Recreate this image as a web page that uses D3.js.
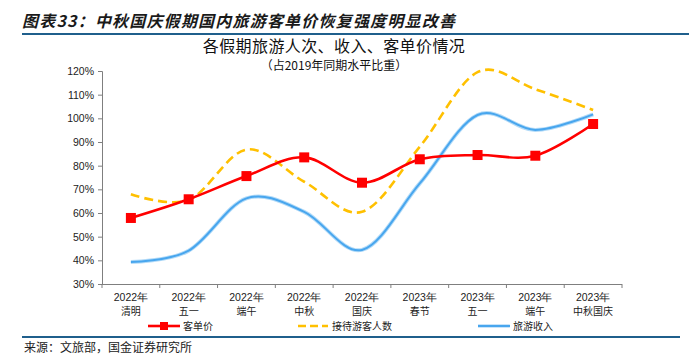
<!DOCTYPE html>
<html><head><meta charset="utf-8">
<script src="https://cdn.jsdelivr.net/npm/d3@7"></script>
<style>
body{margin:0;background:#fff;}
svg{display:block;}
</style></head>
<body>
<svg id="c" width="689" height="357"></svg>
<script>
const years = ["2022年","2022年","2022年","2022年","2022年","2023年","2023年","2023年","2023年"];
const holidays = ["清明","五一","端午","中秋","国庆","春节","五一","端午","中秋国庆"];
const priceSeries = [57.9, 65.8, 75.6, 83.5, 72.8, 82.7, 84.5, 84.2, 97.6];
const visitorSeries = [67.9, 65.5, 86.8, 73.2, 60.5, 88.0, 119.5, 112.3, 103.5];
const revenueSeries = [39.3, 44.1, 66.2, 60.5, 44.4, 72.5, 101.4, 95.1, 101.7];
const yTicks = [30,40,50,60,70,80,90,100,110,120];
const seriesNames = ["客单价","接待游客人数","旅游收入"];

(function(){
const font = "'Noto Sans CJK SC','Noto Sans',sans-serif";
const svg = d3.select("#c");

// header
svg.append("text").attr("x",22).attr("y",27)
  .attr("font-family",font).attr("font-size",16).attr("font-weight","bold")
  .attr("font-style","italic").attr("fill","#1a1a1a").attr("letter-spacing",1.2)
  .text("图表33：中秋国庆假期国内旅游客单价恢复强度明显改善");
svg.append("line").attr("x1",22).attr("x2",689).attr("y1",34).attr("y2",34)
  .attr("stroke","#1f5f8c").attr("stroke-width",2);
svg.append("line").attr("x1",22).attr("x2",680).attr("y1",337).attr("y2",337)
  .attr("stroke","#1f5f8c").attr("stroke-width",2);
svg.append("text").attr("x",24).attr("y",352)
  .attr("font-family",font).attr("font-size",12).attr("fill","#222")
  .text("来源：文旅部，国金证券研究所");

svg.append("text").attr("x",334).attr("y",52).attr("text-anchor","middle")
  .attr("font-family",font).attr("font-size",16).attr("fill","#111").attr("letter-spacing",0.4)
  .text("各假期旅游人次、收入、客单价情况");
svg.append("text").attr("x",334).attr("y",70).attr("text-anchor","middle")
  .attr("font-family",font).attr("font-size",12).attr("fill","#111")
  .text("（占2019年同期水平比重）");

const mL = 102, mR = 622, mT = 71, mB = 284;
const x = d3.scaleBand().domain(d3.range(holidays.length)).range([mL,mR]);
const y = d3.scaleLinear().domain([30,120]).range([mB,mT]);

const yAxis = svg.append("g").attr("transform",`translate(${mL},0)`)
  .call(d3.axisLeft(y).tickValues(yTicks).tickFormat(d=>d+"%").tickSizeOuter(0).tickSize(4).tickPadding(4));
yAxis.selectAll("text").attr("font-family","'Liberation Sans',Arial,sans-serif").attr("font-size",10.5).attr("fill","#222");
yAxis.selectAll("line,path").attr("stroke","#7f7f7f");

const xAxis = svg.append("g").attr("transform",`translate(0,${mB})`)
  .call(d3.axisBottom(x).tickSize(0).tickFormat(""));
xAxis.select("path").attr("stroke","#7f7f7f").attr("d",`M${mL},0.5H${mR}`);
const bounds = d3.range(holidays.length+1).map(i => mL + i*x.step());
svg.append("g").selectAll("line").data(bounds).join("line")
  .attr("x1",d=>d).attr("x2",d=>d).attr("y1",mB).attr("y2",mB+4)
  .attr("stroke","#7f7f7f");
const xl = svg.append("g");
holidays.forEach((h,i)=>{
  const cx = x(i)+x.bandwidth()/2;
  xl.append("text").attr("x",cx).attr("y",301).attr("text-anchor","middle")
    .attr("font-family","'Liberation Sans',Arial,sans-serif").attr("font-size",10.5).attr("fill","#222").text(years[i]);
  xl.append("text").attr("x",cx).attr("y",315).attr("text-anchor","middle")
    .attr("font-family",font).attr("font-size",10).attr("fill","#222").text(h);
});

const line = d3.line().x((d,i)=>x(i)+x.bandwidth()/2).y(d=>y(d)).curve(d3.curveCatmullRom.alpha(0));

svg.append("path").datum(revenueSeries).attr("d",line).attr("fill","none")
  .attr("stroke","#b3dbf8").attr("stroke-width",4);
svg.append("path").datum(revenueSeries).attr("d",line).attr("fill","none")
  .attr("stroke","#48a6ee").attr("stroke-width",2);
svg.append("path").datum(visitorSeries).attr("d",line).attr("fill","none")
  .attr("stroke","#ffc000").attr("stroke-width",2.6).attr("stroke-dasharray","9,5");
svg.append("path").datum(priceSeries).attr("d",line).attr("fill","none")
  .attr("stroke","#ff0000").attr("stroke-width",2.6);
svg.append("g").selectAll("rect").data(priceSeries).join("rect")
  .attr("x",(d,i)=>x(i)+x.bandwidth()/2-5).attr("y",d=>y(d)-5)
  .attr("width",10).attr("height",10).attr("fill","#ff0000");

// legend
const lg = svg.append("g");
const ly = 326;
lg.append("line").attr("x1",148).attr("x2",180).attr("y1",ly).attr("y2",ly).attr("stroke","#ff0000").attr("stroke-width",2.6);
lg.append("rect").attr("x",160).attr("y",ly-4).attr("width",8).attr("height",8).attr("fill","#ff0000");
lg.append("text").attr("x",183).attr("y",ly+4).attr("font-family",font).attr("font-size",10).attr("fill","#222").text(seriesNames[0]);
lg.append("line").attr("x1",298).attr("x2",328).attr("y1",ly).attr("y2",ly).attr("stroke","#ffc000").attr("stroke-width",2.6).attr("stroke-dasharray","8,4");
lg.append("text").attr("x",332).attr("y",ly+4).attr("font-family",font).attr("font-size",10).attr("fill","#222").text(seriesNames[1]);
lg.append("line").attr("x1",478).attr("x2",510).attr("y1",ly).attr("y2",ly).attr("stroke","#48a6ee").attr("stroke-width",2.6);
lg.append("text").attr("x",513).attr("y",ly+4).attr("font-family",font).attr("font-size",10).attr("fill","#222").text(seriesNames[2]);
})();
</script>
</body></html>
